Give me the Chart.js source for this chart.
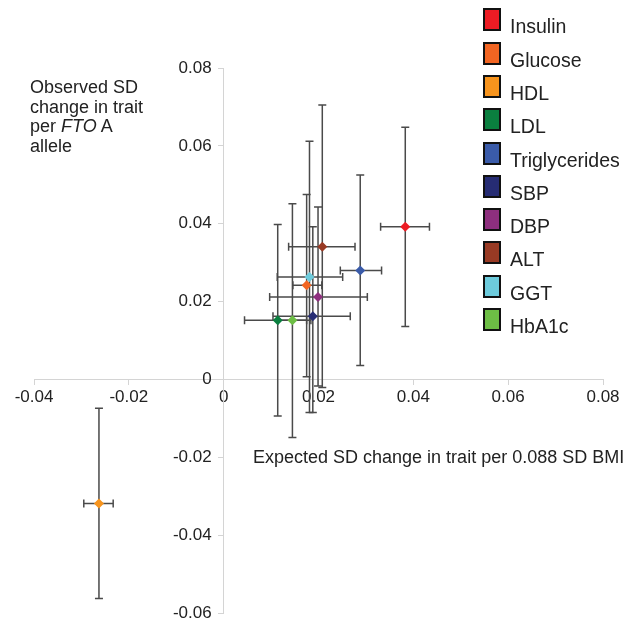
<!DOCTYPE html>
<html>
<head>
<meta charset="utf-8">
<script src="https://cdn.jsdelivr.net/npm/chart.js@4.4.1/dist/chart.umd.min.js"></script>
<style>
  body { margin: 0; background: #fff; font-family: "Liberation Sans", Arial, sans-serif; color: #222; }
  #wrap { position: relative; width: 631px; height: 629px; }
  #wrap canvas { position: absolute; left: 0; top: 0; }
  .ytitle { position: absolute; left: 30px; top: 78px; font-size: 18px; line-height: 19.5px; }
  .xtitle { position: absolute; left: 253px; top: 448px; font-size: 18px; line-height: 18px; white-space: nowrap; }
  .leg { position: absolute; left: 483px; font-size: 19.5px; line-height: 22px; white-space: nowrap; }
  .leg .box { position: absolute; left: 0; width: 14px; height: 19px; border: 2px solid #111; }
  .leg .lbl { position: absolute; left: 27px; }
</style>
</head>
<body>
<div id="wrap">
  <canvas id="chart"></canvas>
  <div class="ytitle">Observed SD<br>change in trait<br>per <i>FTO</i> A<br>allele</div>
  <div class="xtitle">Expected SD change in trait per 0.088 SD BMI</div>
  <div id="legend"></div>
</div>
<script>
// traits and their colours
const traits = ['Insulin', 'Glucose', 'HDL', 'LDL', 'Triglycerides', 'SBP', 'DBP', 'ALT', 'GGT', 'HbA1c'];
const colors = ['#ed1c24', '#f26522', '#f7941d', '#0a7f3f', '#3a5ba9', '#262c73', '#8e2f7e', '#983a24', '#6dcbdc', '#6dbe45'];

// expected effect (x) with its interval
const expected    = [0.0383, 0.0175, -0.0263, 0.0114, 0.0288, 0.0188, 0.0199, 0.0208, 0.0181, 0.0145];
const expectedLow = [0.0331, 0.0146, -0.0295, 0.0044, 0.0246, 0.0104, 0.0097, 0.0137, 0.0113, 0.0115];
const expectedHigh= [0.0434, 0.0207, -0.0233, 0.0184, 0.0333, 0.0267, 0.0303, 0.0277, 0.0251, 0.0175];

// observed effect (y) with its interval
const observed    = [0.0392, 0.0242, -0.0319, 0.0152, 0.0280, 0.0162, 0.0212, 0.0341, 0.0263, 0.0152];
const observedLow = [0.0136, 0.0007, -0.0563, -0.0094, 0.0036, -0.0085, -0.0017, -0.0021, -0.0085, -0.0149];
const observedHigh= [0.0648, 0.0475, -0.0074, 0.0398, 0.0525, 0.0392, 0.0443, 0.0705, 0.0612, 0.0451];

const xTicks = [-0.04, -0.02, 0, 0.02, 0.04, 0.06, 0.08];
const yTicks = [-0.06, -0.04, -0.02, 0, 0.02, 0.04, 0.06, 0.08];

const fmt = v => Math.abs(v) < 1e-9 ? '0' : v.toFixed(2);

// error bars drawn under the markers
const errorBars = {
  id: 'errorBars',
  beforeDatasetsDraw(chart) {
    const {ctx, scales: {x, y}} = chart;
    const cap = 4;
    ctx.save();
    ctx.strokeStyle = '#4a4a4a';
    ctx.lineWidth = 1.5;
    for (let i = 0; i < traits.length; i++) {
      const px = x.getPixelForValue(expected[i]);
      const py = y.getPixelForValue(observed[i]);
      const x1 = x.getPixelForValue(expectedLow[i]);
      const x2 = x.getPixelForValue(expectedHigh[i]);
      const y1 = y.getPixelForValue(observedLow[i]);
      const y2 = y.getPixelForValue(observedHigh[i]);
      ctx.beginPath();
      ctx.moveTo(px, y1); ctx.lineTo(px, y2);
      ctx.moveTo(px - cap, y1); ctx.lineTo(px + cap, y1);
      ctx.moveTo(px - cap, y2); ctx.lineTo(px + cap, y2);
      ctx.moveTo(x1, py); ctx.lineTo(x2, py);
      ctx.moveTo(x1, py - cap); ctx.lineTo(x1, py + cap);
      ctx.moveTo(x2, py - cap); ctx.lineTo(x2, py + cap);
      ctx.stroke();
    }
    ctx.restore();
  }
};

// y tick labels sit left of the centred axis (chart.js puts them flush on it)
const yLabels = {
  id: 'yLabels',
  afterDraw(chart) {
    const {ctx, scales: {x, y}} = chart;
    const ax = x.getPixelForValue(0);
    ctx.save();
    ctx.font = '17px "Liberation Sans"';
    ctx.fillStyle = '#222';
    ctx.textAlign = 'right';
    ctx.textBaseline = 'middle';
    yTicks.forEach(v => ctx.fillText(fmt(v), ax - 12, y.getPixelForValue(v)));
    ctx.restore();
  }
};

const datasets = traits.map((t, i) => ({
  label: t,
  data: [{x: expected[i], y: observed[i]}],
  pointStyle: 'rectRot',
  pointRadius: 5,
  pointBorderWidth: 0,
  backgroundColor: colors[i],
  borderColor: colors[i]
}));

new Chart(document.getElementById('chart'), {
  type: 'scatter',
  data: { datasets: datasets },
  options: {
    responsive: true,
    maintainAspectRatio: false,
    animation: false,
    layout: { padding: { left: 34, right: 28, top: 68, bottom: 16 } },
    plugins: { legend: { display: false }, tooltip: { enabled: false } },
    scales: {
      x: {
        type: 'linear',
        position: { y: 0 },
        min: -0.04, max: 0.08,
        afterBuildTicks: s => { s.ticks = xTicks.map(v => ({value: v})); },
        ticks: { callback: fmt, color: '#222', padding: 3, font: { family: 'Liberation Sans', size: 17 } },
        grid: { drawOnChartArea: false, drawTicks: true, tickLength: 5, color: '#d4d4d4' },
        border: { color: '#d4d4d4' }
      },
      y: {
        type: 'linear',
        position: { x: 0 },
        min: -0.06, max: 0.08,
        afterBuildTicks: s => { s.ticks = yTicks.map(v => ({value: v})); },
        ticks: { display: false },
        grid: { drawOnChartArea: false, drawTicks: true, tickLength: 5, color: '#d4d4d4' },
        border: { color: '#d4d4d4' }
      }
    }
  },
  plugins: [errorBars, yLabels]
});

// legend on the right, built from the same arrays
const legend = document.getElementById('legend');
traits.forEach((t, i) => {
  const item = document.createElement('div');
  item.className = 'leg';
  item.style.top = (8.3 + i * 33.3) + 'px';
  item.innerHTML = '<div class="box" style="background:' + colors[i] + '"></div>' +
                   '<div class="lbl" style="top:7px">' + t + '</div>';
  legend.appendChild(item);
});
</script>
</body>
</html>
